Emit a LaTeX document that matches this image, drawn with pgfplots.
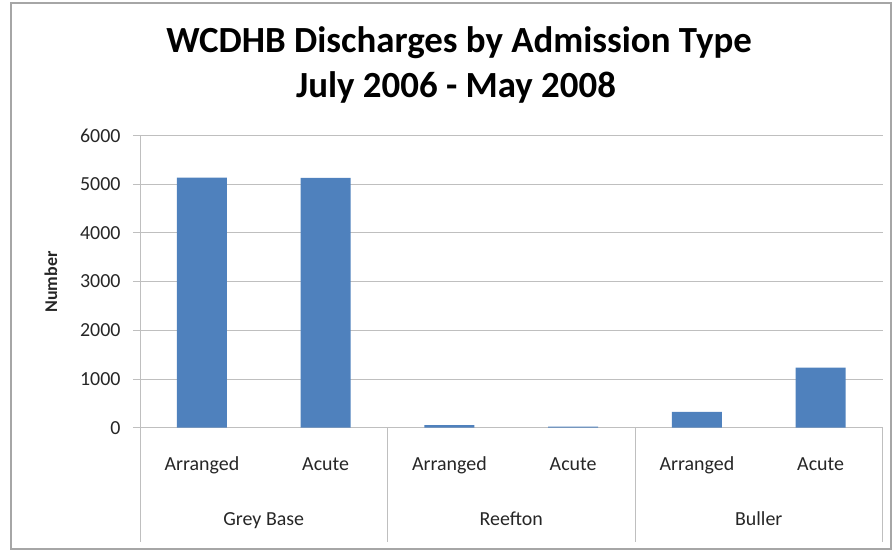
\documentclass[border=0pt]{standalone}
\usepackage{pgfplots}
\pgfplotsset{compat=1.18}
\usepackage{fontspec}
\setmainfont{Carlito}
\definecolor{barblue}{HTML}{4F81BD}
\definecolor{gridgray}{HTML}{BFBFBF}
\definecolor{txt}{HTML}{262626}
\begin{document}
\begin{tikzpicture}[x=1bp,y=1bp]
\begin{axis}[
  at={(140bp,122.3bp)}, anchor=south west,
  scale only axis, width=742.5bp, height=292.2bp,
  xmin=-0.5, xmax=5.5, ymin=0, ymax=6000,
  ytick={0,1000,...,6000},
  xtick={0,...,5},
  xticklabels={Arranged,Acute,Arranged,Acute,Arranged,Acute},
  /pgf/number format/assume math mode=true,
  /pgf/number format/1000 sep={},
  scaled y ticks=false,
  yticklabel style={font=\fontsize{20}{21}\selectfont, text=txt, xshift=-9bp},
  xticklabel style={font=\fontsize{20}{21}\selectfont, text=txt, anchor=base, yshift=-36bp},
  ymajorgrids, grid style={gridgray, line width=0.9bp},
  axis lines*=left,
  axis line style={gridgray, line width=0.9bp, -},
  tick style={gridgray, line width=0.9bp},
  xtick style={draw=none},
  tick align=outside, major tick length=7bp,
  ybar, bar width=50bp,
  clip=false,
]
\addplot[fill=barblue, draw=none] coordinates {
  (0,5135) (1,5130) (2,55) (3,20) (4,325) (5,1235)
};
\draw[gridgray, line width=0.9bp] (axis cs:-0.5,0) -- ([yshift=-114.5bp]axis cs:-0.5,0);
\draw[gridgray, line width=0.9bp] (axis cs:1.5,0) -- ([yshift=-114.5bp]axis cs:1.5,0);
\draw[gridgray, line width=0.9bp] (axis cs:3.5,0) -- ([yshift=-114.5bp]axis cs:3.5,0);
\draw[gridgray, line width=0.9bp] (axis cs:5.5,0) -- ([yshift=-114.5bp]axis cs:5.5,0);
\node[anchor=base, text=txt, font=\fontsize{20}{21}\selectfont] at ([yshift=-98bp]axis cs:0.5,0) {Grey Base};
\node[anchor=base, text=txt, font=\fontsize{20}{21}\selectfont] at ([yshift=-98bp]axis cs:2.5,0) {Reefton};
\node[anchor=base, text=txt, font=\fontsize{20}{21}\selectfont] at ([yshift=-98bp]axis cs:4.5,0) {Buller};
\end{axis}
\node[rotate=90, anchor=center, text=txt, font=\bfseries\fontsize{18}{19}\selectfont] at (51bp,268bp) {Number};
\node[anchor=base, font=\bfseries\fontsize{37}{38}\selectfont] at (459bp,497bp) {WCDHB Discharges by Admission Type};
\node[anchor=base, font=\bfseries\fontsize{37}{38}\selectfont] at (456bp,452bp) {July 2006 - May 2008};
\draw[gray!70, line width=2bp] (11bp,1bp) rectangle (891bp,547bp);
\pgfresetboundingbox
\path[use as bounding box] (0,0) rectangle (892bp,550bp);
\end{tikzpicture}
\end{document}
